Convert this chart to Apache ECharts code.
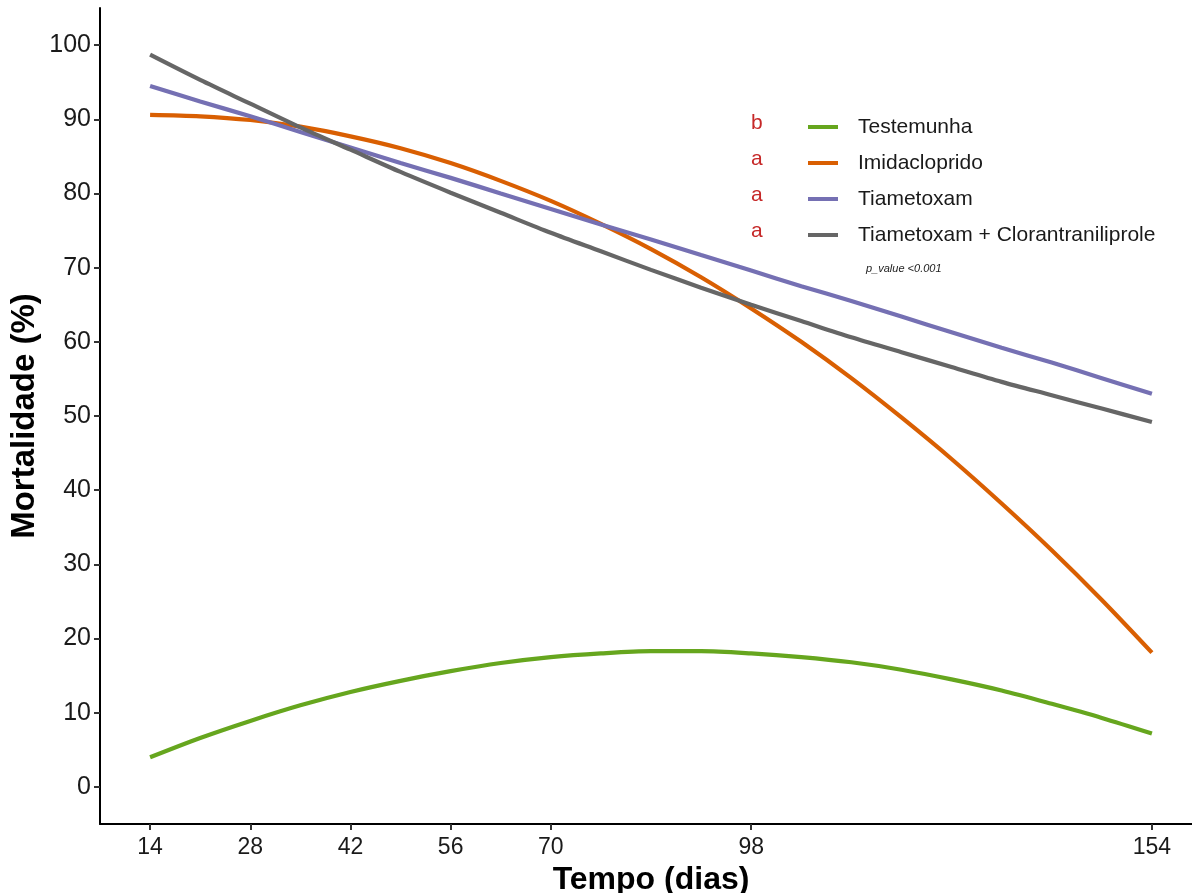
<!DOCTYPE html>
<html>
<head>
<meta charset="utf-8">
<title>Mortalidade ao longo do tempo</title>
<script src="https://cdn.jsdelivr.net/npm/echarts@6/dist/echarts.min.js"></script>
<style>
  html, body { margin: 0; padding: 0; background: #ffffff; }
  #chart { width: 1192px; height: 893px; }
</style>
</head>
<body>
<div id="chart"></div>
<script>
// Sampling days (dias) for the fitted curves
const days = [14, 21, 28, 35, 42, 49, 56, 63, 70, 77, 84, 91, 98, 105, 112, 119, 126, 133, 140, 147, 154];

// Fitted mortality (%) per treatment
const testemunha = [4.0, 6.6, 8.9, 11.0, 12.8, 14.3, 15.6, 16.7, 17.5, 18.0, 18.3, 18.3, 18.0, 17.5, 16.8, 15.8, 14.5, 13.0, 11.2, 9.3, 7.2];
const imidacloprido = [90.6, 90.4, 89.9, 89.0, 87.7, 86.1, 84.1, 81.7, 79.0, 75.9, 72.5, 68.7, 64.5, 60.0, 55.1, 49.8, 44.2, 38.2, 31.9, 25.2, 18.1];
const tiametoxam = [94.5, 92.4, 90.4, 88.3, 86.2, 84.1, 82.1, 80.0, 77.9, 75.8, 73.8, 71.7, 69.6, 67.5, 65.5, 63.4, 61.3, 59.2, 57.2, 55.1, 53.0];
const tiametoxamClor = [98.7, 95.3, 92.1, 88.9, 85.9, 82.9, 80.1, 77.4, 74.7, 72.2, 69.7, 67.3, 65.0, 62.8, 60.6, 58.6, 56.6, 54.6, 52.8, 51.0, 49.2];

// Series names, significance letters and colours
const seriesNames = ['Testemunha', 'Imidacloprido', 'Tiametoxam', 'Tiametoxam + Clorantraniliprole'];
const seriesValues = [testemunha, imidacloprido, tiametoxam, tiametoxamClor];
const letters = ['b', 'a', 'a', 'a'];
const colors = ['#66a61e', '#d95f02', '#7570b3', '#666666'];

// Axis ticks
const xTicks = [14, 28, 42, 56, 70, 98, 154];
const yTicks = [0, 10, 20, 30, 40, 50, 60, 70, 80, 90, 100];
const pValueText = 'p_value <0.001';

const FONT = '"Liberation Sans", Arial, sans-serif';

const chart = echarts.init(document.getElementById('chart'), null, { renderer: 'canvas' });

const series = seriesNames.map((name, i) => ({
  name: name,
  type: 'line',
  smooth: 0.3,
  showSymbol: false,
  symbol: 'none',
  color: colors[i],
  lineStyle: { width: 4.2, color: colors[i] },
  data: days.map((d, k) => [d, seriesValues[i][k]]),
  z: 2 + i
}));

// Significance letters beside the legend, plus the p-value note
const legendTop = 115;
const legendStep = 36;
const graphics = letters.map((t, i) => ({
  type: 'text',
  left: 751,
  top: legendTop + i * legendStep - 2,
  style: { text: t, fill: '#c62828', font: '21px ' + FONT }
}));
graphics.push({
  type: 'text',
  left: 866,
  top: 263,
  style: { text: pValueText, fill: '#222222', font: 'italic 11px ' + FONT }
});

chart.setOption({
  animation: false,
  backgroundColor: '#ffffff',
  grid: { left: 100, right: -10, top: 8, bottom: 69, containLabel: false, outerBoundsMode: 'none' },
  legend: {
    orient: 'vertical',
    left: 808,
    top: legendTop,
    padding: 0,
    icon: 'rect',
    itemWidth: 30,
    itemHeight: 4,
    itemGap: 12,
    selectedMode: false,
    data: seriesNames,
    textStyle: { fontSize: 21, fontFamily: FONT, color: '#1a1a1a', padding: [0, 0, 0, 15], lineHeight: 24 }
  },
  xAxis: {
    type: 'value',
    min: 7,
    max: 161,
    name: 'Tempo (dias)',
    nameLocation: 'middle',
    nameGap: 40,
    nameMoveOverlap: false,
    nameTextStyle: { fontSize: 32, fontWeight: 'bold', fontFamily: FONT, color: '#000000' },
    axisLine: { show: true, onZero: false, lineStyle: { color: '#000000', width: 2 } },
    axisTick: { show: true, length: 6, customValues: xTicks, lineStyle: { color: '#333333', width: 2 } },
    axisLabel: { customValues: xTicks, fontSize: 23, fontFamily: FONT, color: '#1a1a1a', margin: 12 },
    splitLine: { show: false }
  },
  yAxis: {
    type: 'value',
    min: -5,
    max: 105,
    name: 'Mortalidade (%)',
    nameLocation: 'middle',
    nameRotate: 90,
    nameGap: 59,
    nameMoveOverlap: false,
    nameTextStyle: { fontSize: 33, fontWeight: 'bold', fontFamily: FONT, color: '#000000' },
    axisLine: { show: true, onZero: false, lineStyle: { color: '#000000', width: 2 } },
    axisTick: { show: true, length: 6, customValues: yTicks, lineStyle: { color: '#333333', width: 2 } },
    axisLabel: { customValues: yTicks, fontSize: 25, fontFamily: FONT, color: '#1a1a1a', margin: 9 },
    splitLine: { show: false }
  },
  graphic: graphics,
  series: series
});
</script>
</body>
</html>
